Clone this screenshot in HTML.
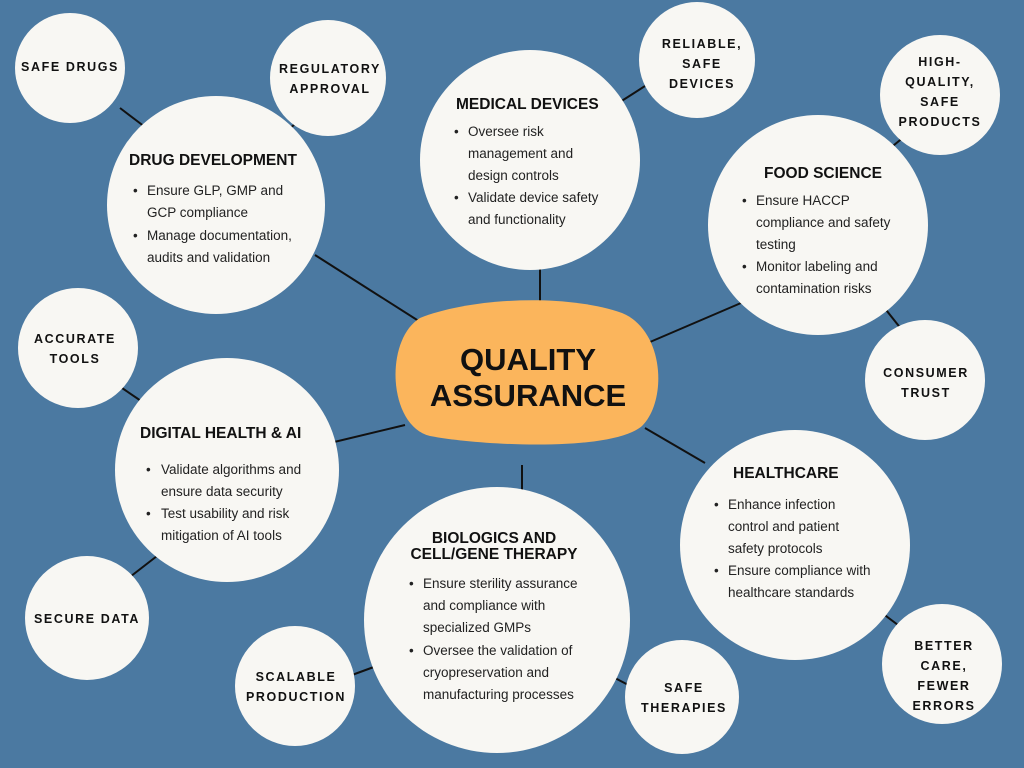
<!DOCTYPE html>
<html><head><meta charset="utf-8"><style>
html,body{margin:0;padding:0;background:#4b79a1;}
svg{display:block}
.h{font-family:"Liberation Sans",sans-serif;font-weight:bold;font-size:15.5px;fill:#111;}
.b{font-family:"Liberation Sans",sans-serif;font-size:13.5px;fill:#222;}
.s{font-family:"Liberation Sans",sans-serif;font-weight:bold;font-size:12.5px;fill:#111;letter-spacing:1.6px;}
</style></head><body>
<svg width="1024" height="768" viewBox="0 0 1024 768" xmlns="http://www.w3.org/2000/svg">
<rect width="1024" height="768" fill="#4b79a1"/>
<g stroke="#111" stroke-width="2">
<line x1="315" y1="255" x2="425" y2="325"/>
<line x1="540" y1="258" x2="540" y2="302"/>
<line x1="643" y1="345" x2="748" y2="300"/>
<line x1="330" y1="443" x2="405" y2="425"/>
<line x1="645" y1="428" x2="705" y2="463"/>
<line x1="522" y1="465" x2="522" y2="495"/>
<line x1="120" y1="108" x2="145" y2="127"/>
<line x1="288" y1="130" x2="302" y2="118"/>
<line x1="620" y1="102" x2="645" y2="86"/>
<line x1="888" y1="150" x2="905" y2="136"/>
<line x1="122" y1="388" x2="147" y2="405"/>
<line x1="883" y1="306" x2="902" y2="330"/>
<line x1="126" y1="580" x2="157" y2="556"/>
<line x1="352" y1="675" x2="382" y2="664"/>
<line x1="613" y1="677" x2="638" y2="690"/>
<line x1="862" y1="598" x2="902" y2="628"/>
</g>
<path d="M420 318 C470 298,565 293,622 313 C664 330,668 400,642 426 C612 452,482 446,430 436 C388 426,384 340,420 318Z" fill="#fbb55c"/>
<text x="528" y="370" text-anchor="middle" font-family="Liberation Sans,sans-serif" font-weight="bold" font-size="31" fill="#111">QUALITY</text>
<text x="528" y="406" text-anchor="middle" font-family="Liberation Sans,sans-serif" font-weight="bold" font-size="31" fill="#111">ASSURANCE</text>
<g fill="#f8f7f3">
<circle cx="216" cy="205" r="109"/>
<circle cx="530" cy="160" r="110"/>
<circle cx="818" cy="225" r="110"/>
<circle cx="227" cy="470" r="112"/>
<circle cx="795" cy="545" r="115"/>
<circle cx="497" cy="620" r="133"/>
<circle cx="70" cy="68" r="55"/>
<circle cx="328" cy="78" r="58"/>
<circle cx="697" cy="60" r="58"/>
<circle cx="940" cy="95" r="60"/>
<circle cx="78" cy="348" r="60"/>
<circle cx="925" cy="380" r="60"/>
<circle cx="87" cy="618" r="62"/>
<circle cx="295" cy="686" r="60"/>
<circle cx="682" cy="697" r="57"/>
<circle cx="942" cy="664" r="60"/>
</g>
<g class="s" text-anchor="middle">
<text class="s" x="70" y="71">SAFE DRUGS</text>
<text class="s" x="330" y="73">REGULATORY</text><text class="s" x="330" y="93">APPROVAL</text>
<text class="s" x="702" y="48">RELIABLE,</text><text class="s" x="702" y="68">SAFE</text><text class="s" x="702" y="88">DEVICES</text>
<text class="s" x="940" y="66">HIGH-</text><text class="s" x="940" y="86">QUALITY,</text><text class="s" x="940" y="106">SAFE</text><text class="s" x="940" y="126">PRODUCTS</text>
<text class="s" x="75" y="343">ACCURATE</text><text class="s" x="75" y="363">TOOLS</text>
<text class="s" x="926" y="377">CONSUMER</text><text class="s" x="926" y="397">TRUST</text>
<text class="s" x="87" y="623">SECURE DATA</text>
<text class="s" x="296" y="681">SCALABLE</text><text class="s" x="296" y="701">PRODUCTION</text>
<text class="s" x="684" y="692">SAFE</text><text class="s" x="684" y="712">THERAPIES</text>
<text class="s" x="944" y="650">BETTER</text><text class="s" x="944" y="670">CARE,</text><text class="s" x="944" y="690">FEWER</text><text class="s" x="944" y="710">ERRORS</text>
</g>
<text class="h" x="129" y="165">DRUG DEVELOPMENT</text>
<text class="b" x="133" y="195">•</text><text class="b" x="147" y="195">Ensure GLP, GMP and</text>
<text class="b" x="147" y="217">GCP compliance</text>
<text class="b" x="133" y="240">•</text><text class="b" x="147" y="240">Manage documentation,</text>
<text class="b" x="147" y="262">audits and validation</text>

<text class="h" x="456" y="109">MEDICAL DEVICES</text>
<text class="b" x="454" y="136">•</text><text class="b" x="468" y="136">Oversee risk</text>
<text class="b" x="468" y="158">management and</text>
<text class="b" x="468" y="180">design controls</text>
<text class="b" x="454" y="202">•</text><text class="b" x="468" y="202">Validate device safety</text>
<text class="b" x="468" y="224">and functionality</text>

<text class="h" x="764" y="178">FOOD SCIENCE</text>
<text class="b" x="742" y="205">•</text><text class="b" x="756" y="205">Ensure HACCP</text>
<text class="b" x="756" y="227">compliance and safety</text>
<text class="b" x="756" y="249">testing</text>
<text class="b" x="742" y="271">•</text><text class="b" x="756" y="271">Monitor labeling and</text>
<text class="b" x="756" y="293">contamination risks</text>

<text class="h" x="140" y="438">DIGITAL HEALTH &amp; AI</text>
<text class="b" x="146" y="474">•</text><text class="b" x="161" y="474">Validate algorithms and</text>
<text class="b" x="161" y="496">ensure data security</text>
<text class="b" x="146" y="518">•</text><text class="b" x="161" y="518">Test usability and risk</text>
<text class="b" x="161" y="540">mitigation of AI tools</text>

<text class="h" x="733" y="478">HEALTHCARE</text>
<text class="b" x="714" y="509">•</text><text class="b" x="728" y="509">Enhance infection</text>
<text class="b" x="728" y="531">control and patient</text>
<text class="b" x="728" y="553">safety protocols</text>
<text class="b" x="714" y="575">•</text><text class="b" x="728" y="575">Ensure compliance with</text>
<text class="b" x="728" y="597">healthcare standards</text>

<text class="h" x="494" y="543" text-anchor="middle">BIOLOGICS AND</text>
<text class="h" x="494" y="559" text-anchor="middle">CELL/GENE THERAPY</text>
<text class="b" x="409" y="588">•</text><text class="b" x="423" y="588">Ensure sterility assurance</text>
<text class="b" x="423" y="610">and compliance with</text>
<text class="b" x="423" y="632">specialized GMPs</text>
<text class="b" x="409" y="655">•</text><text class="b" x="423" y="655">Oversee the validation of</text>
<text class="b" x="423" y="677">cryopreservation and</text>
<text class="b" x="423" y="699">manufacturing processes</text>
</svg>
</body></html>
